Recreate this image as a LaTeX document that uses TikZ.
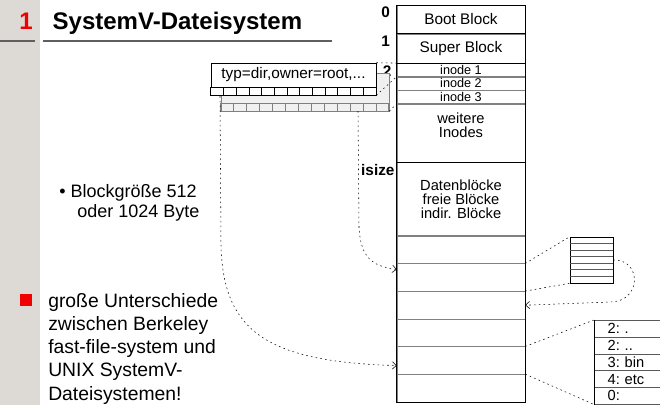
\documentclass[tikz,border=0pt]{standalone}
\usepackage{fontspec}
\setmainfont{Liberation Sans}
\usetikzlibrary{arrows.meta,positioning,calc}
\definecolor{sidebar}{RGB}{221,217,213}
\definecolor{rulegray}{RGB}{95,95,95}
\definecolor{mark}{RGB}{240,0,0}
\tikzset{
  blk/.style={draw=gray, minimum width=96pt, inner sep=0pt, align=center, font=\fontsize{11}{10.5}\selectfont},
  inorow/.style={blk, minimum height=9.75pt, font=\fontsize{9.5}{9.5}\selectfont},
  num/.style={font=\bfseries\fontsize{11.5}{12}\selectfont, inner sep=0pt, anchor=north east, xshift=-5pt, yshift=-1.5pt},
  proj/.style={dash pattern=on 1.2pt off 2.4pt},
  ptr/.style={proj, -{Straight Barb[length=3pt,width=5.5pt]}},
  dirrow/.style={draw=gray!70!black, anchor=north west, minimum height=12.6pt, inner sep=0pt, inner xsep=10pt, text width=40pt, align=left, font=\fontsize{11}{12}\selectfont\frenchspacing},
}
\begin{document}
\begin{tikzpicture}[x=0.75pt, y=-0.75pt]
  \useasboundingbox (0,0) rectangle (660,405);
  \fill[sidebar] (0,0) rectangle (40,405);
  % heading
  \node[anchor=base, text=mark, font=\bfseries\fontsize{18}{20}\selectfont] (secno) at (26,29) {1};
  \node[anchor=base west, font=\bfseries\fontsize{18}{20}\selectfont] (title) at (48,29) {SystemV-Dateisystem};
  \draw[rulegray, line width=0.9pt] (0,41) -- (35,41);
  \draw[rulegray, line width=0.9pt] (43,41) -- (332,41);
  % disk layout
  \node[blk, minimum height=21pt, anchor=north, font=\fontsize{11.5}{12}\selectfont] (boot) at (461,5) {Boot Block};
  \node[blk, minimum height=21.75pt, below=0pt of boot, font=\fontsize{11.5}{12}\selectfont] (super) {Super Block};
  \node[inorow, below=0pt of super] (i1) {inode 1};
  \node[inorow, below=0pt of i1] (i2) {inode 2};
  \node[inorow, below=0pt of i2] (i3) {inode 3};
  \node[blk, minimum height=43.5pt, below=0pt of i3] (wi) {};
  \node[align=center, inner sep=0pt, font=\fontsize{11}{10.5}\selectfont] at ($(wi.north)+(0,22)$) {weitere\\Inodes};
  \node[blk, minimum height=54.75pt, below=0pt of wi] (dat) {Datenblöcke\\freie Blöcke\\indir. Blöcke};
  \foreach \i in {1,...,6}
    \node[blk, minimum height=20.75pt, anchor=north] (r\i) at ($(dat.south)+(0,{(\i-1)*27.67})$) {};
  \draw (boot.north west) rectangle (r6.south east);
  \draw (boot.south west) -- (boot.south east);
  \draw[line width=0.8pt] (super.south west) -- (super.south east);
  \draw (wi.south west) -- (wi.south east);
  \node[num] at (boot.north west) {0};
  \node[num] at (super.north west) {1};
  \node[num, xshift=1.2pt] at (i1.north west) {2};
  \node[num, xshift=3.5pt] at (dat.north west) {isize};
  % inode contents
  \node[draw=gray, fill=gray!12, minimum width=126pt, minimum height=28.5pt, inner sep=0pt] (gry) at (305,92) {};
  \foreach \i in {0,...,12}
    \draw[gray] ($(gry.south west)+(\i*12.92,-8)$) rectangle ++(12.92,8);
  \node[draw, fill=white, minimum width=123.75pt, minimum height=18pt, inner sep=0pt, font=\fontsize{11.5}{12}\selectfont] (ino) at (293.5,75) {typ=dir,owner=root,...};
  \foreach \i in {0,...,12}
    \draw[fill=white] ($(ino.south west)+(\i*12.7,0)$) rectangle ++(12.7,8);
  \coordinate (inose) at ($(ino.south east)+(0,8)$);
  \draw[proj] (ino.north east) -- (i1.north west);
  \draw[proj] (inose) -- (i1.south west);
  \draw[proj] (gry.south east) -- (i3.south west);
  % block pointers
  \coordinate (pA) at (220,96);
  \coordinate (pB) at (358,111);
  \draw[ptr] (pA) -- (221,245) .. controls (223,330) and (265,362) .. ($(r5.west)+(0,5)$);
  \draw[ptr] (pB) -- (359,228) .. controls (361,258) and (372,266) .. ($(r2.west)+(0,-8)$);
  % indirect block
  \node[draw, minimum width=32.25pt, minimum height=34.5pt, inner sep=0pt] (ind) at (591.5,260) {};
  \foreach \k in {1,...,6}
    \draw[gray!70!black] ($(ind.north west)+(0,\k*6.57)$) -- ++(43,0);
  \draw[proj] (r2.north east) -- (ind.north west);
  \draw[proj] (r3.north east) -- (ind.south west);
  \draw[ptr] (ind.east) .. controls (642,259) and (642,302) .. (610,302) -- (r3.east);
  % directory block
  \coordinate (dirtop) at (594,320);
  \foreach \t [count=\i] in {2: .,2: ..,3: bin,4: etc,0:}
    \node[dirrow] (d\i) at ($(dirtop)+(0,{(\i-1)*16.8})$) {\t};
  \draw (d1.north west) -- (d5.south west);
  \draw[proj] (r5.north east) -- (d1.north west);
  \draw[proj] (r6.north east) -- (d5.south west);
  % notes
  \node[anchor=north west, align=left, inner sep=0pt, font=\fontsize{13.5}{15.5}\selectfont] (bsize) at (59,184) {\textbullet\ Blockgröße 512\\\hspace*{13.5pt}oder 1024 Byte};
  \node[fill=mark, minimum size=9.5pt, inner sep=0pt] (sq) at (26,300) {};
  \node[anchor=north west, align=left, inner sep=0pt, font=\fontsize{14.5}{17.4}\selectfont] (diff) at (48,293) {große Unterschiede\\zwischen Berkeley\\fast-file-system und\\UNIX SystemV-\\Dateisystemen!};
\end{tikzpicture}
\end{document}
